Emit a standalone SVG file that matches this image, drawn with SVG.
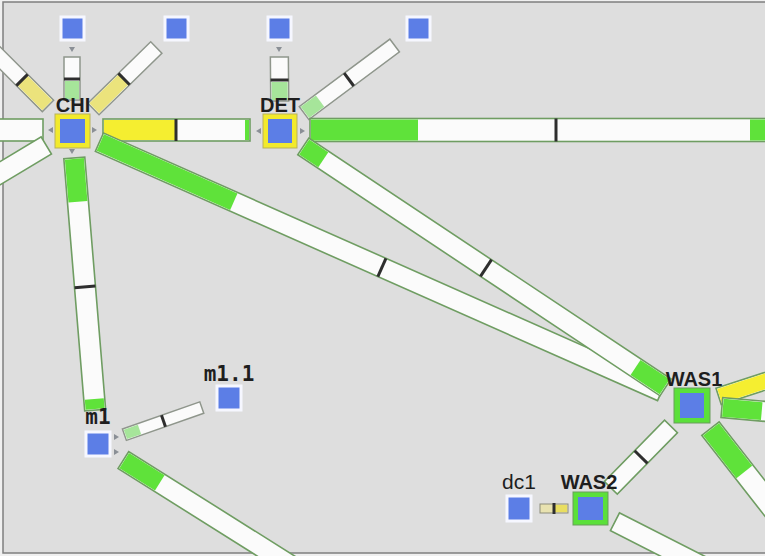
<svg xmlns="http://www.w3.org/2000/svg" width="765" height="556" viewBox="0 0 765 556">
<defs>
<style>
.bar{fill:#fbfbfb;stroke:#6f9d62;stroke-width:1.6}
.thin{fill:#fbfbfb;stroke:#8f968c;stroke-width:1.5}
.g{fill:#5fe23a}
.y{fill:#f5ee30}
.py{fill:#ebe37c}
.lg{fill:#a6e59a}
.tick{stroke:#2e2e2e;stroke-width:3}
.blue{fill:#5c7ee6;stroke:#f6f7ff;stroke-width:3}
.blue2{fill:#5c7ee6}
.ybd{fill:#f2ea2c;stroke:#b9b25a;stroke-width:1}
.gbd{fill:#5be03a;stroke:#6a9d5c;stroke-width:1}
.arr{fill:#8a8f96}
.lbl{font-family:"Liberation Sans",Arial,sans-serif;font-size:20px;font-weight:bold;fill:#1e1e1e;text-anchor:middle}
.mono{font-family:"DejaVu Sans Mono",monospace;font-size:21px;font-weight:bold;fill:#1e1e1e;text-anchor:middle}
</style>
</defs>
<rect x="0" y="0" width="765" height="556" fill="#f0f0f0"/>
<rect x="3" y="2" width="775" height="551" fill="#dedede" stroke="#7f7f7f" stroke-width="1.5"/>

<g id="connectors">
  <!-- CHI - W -->
  <g transform="translate(72,130) rotate(180)">
    <rect class="bar" x="29" y="-11" width="91" height="22"/>
  </g>
  <!-- CHI - SW -->
  <g transform="translate(72,130) rotate(149)">
    <rect class="bar" x="30" y="-10" width="100" height="20"/>
  </g>
  <!-- CHI - NW -->
  <g transform="translate(72,130) rotate(-135)">
    <rect class="thin" x="34" y="-8" width="81" height="16"/>
    <rect class="py" x="35" y="-7" width="35.7" height="14"/>
    <line class="tick" x1="70.7" y1="-8" x2="70.7" y2="8"/>
  </g>
  <!-- CHI - top1 -->
  <g transform="translate(72,130) rotate(-90)">
    <rect class="thin" x="30" y="-8" width="43" height="16"/>
    <rect class="lg" x="31" y="-7" width="18" height="14"/>
    <line class="tick" x1="51" y1="-8" x2="51" y2="8"/>
  </g>
  <!-- CHI - top2 -->
  <g transform="translate(72,130) rotate(-44.4)">
    <rect class="thin" x="30" y="-8" width="88" height="16"/>
    <rect class="py" x="31" y="-7" width="41.8" height="14"/>
    <line class="tick" x1="72.8" y1="-8" x2="72.8" y2="8"/>
  </g>
  <!-- DET - top3 -->
  <g transform="translate(280,131) rotate(-90.5)">
    <rect class="thin" x="30" y="-9" width="44" height="18"/>
    <rect class="lg" x="31" y="-8" width="18" height="16"/>
    <line class="tick" x1="51" y1="-9" x2="51" y2="9"/>
  </g>
  <!-- DET - top4 -->
  <g transform="translate(280,131) rotate(-36.7)">
    <rect class="thin" x="30" y="-8" width="113" height="16"/>
    <rect class="lg" x="31" y="-7" width="19" height="14"/>
    <line class="tick" x1="86" y1="-8" x2="86" y2="8"/>
  </g>
  <!-- CHI - DET -->
  <g transform="translate(72,130)">
    <rect class="bar" x="31" y="-11" width="147" height="22"/>
    <rect class="y" x="32" y="-10" width="72" height="20"/>
    <rect class="g" x="173" y="-10" width="4" height="20"/>
    <line class="tick" x1="104" y1="-11" x2="104" y2="11"/>
  </g>
  <!-- DET - east -->
  <g transform="translate(280,130)">
    <rect class="bar" x="30" y="-11.5" width="530" height="23"/>
    <rect class="g" x="31" y="-10.5" width="107" height="21"/>
    <rect class="g" x="470" y="-10.5" width="90" height="21"/>
    <line class="tick" x1="276" y1="-11.5" x2="276" y2="11.5"/>
  </g>
  <!-- CHI - m1 -->
  <g transform="translate(72,130) rotate(85.27)">
    <rect class="bar" x="28" y="-10.5" width="253" height="21"/>
    <rect class="g" x="29" y="-9.5" width="43" height="19"/>
    <rect class="g" x="270" y="-9.5" width="10" height="19"/>
    <line class="tick" x1="157.5" y1="-10.5" x2="157.5" y2="10.5"/>
  </g>
  <!-- CHI - WAS1 -->
  <g transform="translate(72,130) rotate(23.92)">
    <rect class="bar" x="30" y="-10" width="615" height="20"/>
    <rect class="g" x="31" y="-9" width="146" height="18"/>
    <line class="tick" x1="339" y1="-10" x2="339" y2="10"/>
  </g>
  <!-- DET - WAS1 -->
  <g transform="translate(280,131) rotate(33.63)">
    <rect class="bar" x="28" y="-10" width="435" height="20"/>
    <rect class="g" x="29" y="-9" width="23" height="18"/>
    <rect class="g" x="427" y="-9" width="35" height="18"/>
    <line class="tick" x1="247.4" y1="-10" x2="247.4" y2="10"/>
  </g>
  <!-- m1 - m1.1 -->
  <g transform="translate(98,444) rotate(-19.35)">
    <rect class="thin" x="28" y="-6" width="82" height="12"/>
    <rect class="lg" x="29" y="-5" width="15" height="10"/>
    <line class="tick" x1="69.4" y1="-6" x2="69.4" y2="6"/>
  </g>
  <!-- m1 - SE -->
  <g transform="translate(98,444) rotate(32.2)">
    <rect class="bar" x="30" y="-10" width="230" height="20"/>
    <rect class="g" x="31" y="-9" width="42" height="18"/>
  </g>
  <!-- WAS1 - NE -->
  <g transform="translate(692,405) rotate(-18)">
    <rect class="bar" x="28" y="-8.5" width="92" height="17"/>
    <rect class="y" x="29" y="-7.5" width="90" height="15"/>
  </g>
  <!-- WAS1 - E -->
  <g transform="translate(692,405) rotate(5)">
    <rect class="bar" x="30" y="-10" width="90" height="20"/>
    <rect class="g" x="31" y="-9" width="39" height="18"/>
  </g>
  <!-- WAS1 - SE -->
  <g transform="translate(692,405) rotate(52)">
    <rect class="bar" x="30" y="-11" width="150" height="22"/>
    <rect class="g" x="31" y="-10" width="54" height="20"/>
  </g>
  <!-- WAS1 - WAS2 -->
  <g transform="translate(692,405) rotate(134.4)">
    <rect class="bar" x="30" y="-9" width="86" height="18"/>
    <line class="tick" x1="72.8" y1="-9" x2="72.8" y2="9"/>
  </g>
  <!-- WAS2 - SE -->
  <g transform="translate(590,509) rotate(27)">
    <rect class="bar" x="28" y="-10" width="122" height="20"/>
  </g>
  <!-- dc1 - WAS2 -->
  <g>
    <rect x="540" y="504" width="28" height="9" fill="#e8e2b0" stroke="#8c8c7a" stroke-width="1"/>
    <rect x="555" y="505" width="12" height="7" fill="#e9de60"/>
    <line class="tick" x1="554" y1="503" x2="554" y2="514" stroke-width="2.5"/>
  </g>
  <!-- small end arrows -->
  <g>
    <path class="arr" d="M69,47 L75,47 L72,52 Z"/>
    <path class="arr" d="M276,47 L282,47 L279,52 Z"/>
    <path class="arr" d="M53,127 L53,133 L48,130 Z"/>
    <path class="arr" d="M92,127 L92,133 L97,130 Z"/>
    <path class="arr" d="M69,149 L75,149 L72,154 Z"/>
    <path class="arr" d="M261,128 L261,134 L256,131 Z"/>
    <path class="arr" d="M300,128 L300,134 L305,131 Z"/>
    <path class="arr" d="M114,434 L119,437 L114,440 Z"/>
    <path class="arr" d="M114,449 L119,452 L114,455 Z"/>
  </g>
</g>

<g id="node-top1"><rect class="blue" x="61" y="17" width="23" height="23"/></g>
<g id="node-top2"><rect class="blue" x="165" y="17" width="23" height="23"/></g>
<g id="node-top3"><rect class="blue" x="268" y="17" width="23" height="23"/></g>
<g id="node-top4"><rect class="blue" x="407" y="17" width="23" height="23"/></g>

<g id="node-CHI">
  <rect class="ybd" x="55" y="114" width="35" height="34"/>
  <rect class="blue2" x="60" y="119" width="25" height="24"/>
  <text class="lbl" x="73" y="112">CHI</text>
</g>
<g id="node-DET">
  <rect class="ybd" x="263" y="114" width="34" height="34"/>
  <rect class="blue2" x="268" y="119" width="24" height="24"/>
  <text class="lbl" x="280" y="112">DET</text>
</g>
<g id="node-m1.1">
  <rect class="blue" x="217" y="386" width="24" height="24"/>
  <text class="mono" x="229" y="381">m1.1</text>
</g>
<g id="node-m1">
  <rect class="blue" x="86" y="432" width="24" height="24"/>
  <text class="mono" x="98" y="424">m1</text>
</g>
<g id="node-WAS1">
  <rect class="gbd" x="674" y="388" width="36" height="35"/>
  <rect class="blue2" x="680" y="393" width="24" height="25"/>
  <text class="lbl" x="694" y="386">WAS1</text>
</g>
<g id="node-WAS2">
  <rect class="gbd" x="573" y="492" width="35" height="33"/>
  <rect class="blue2" x="578" y="497" width="25" height="23"/>
  <text class="lbl" x="589" y="489">WAS2</text>
</g>
<g id="node-dc1">
  <rect class="blue" x="507" y="496" width="24" height="25"/>
  <text class="lbl" x="519" y="489" style="font-weight:normal;font-size:21px">dc1</text>
</g>
</svg>
